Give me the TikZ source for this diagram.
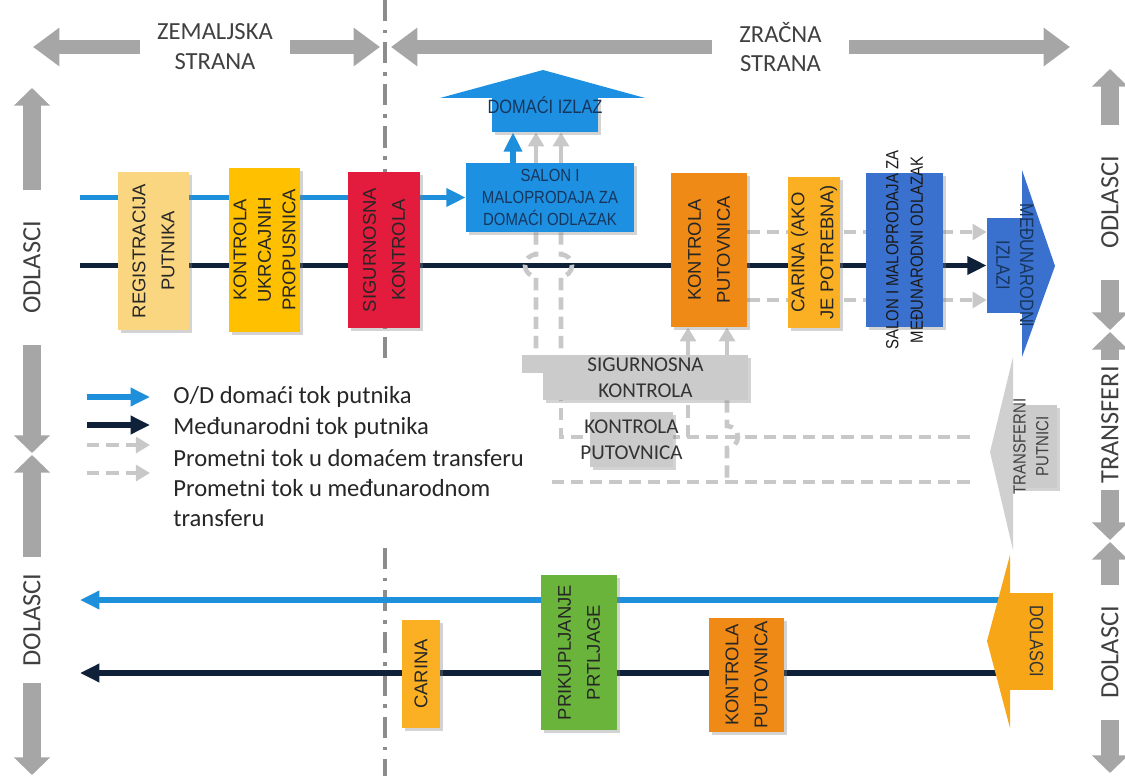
\documentclass[tikz,border=0pt]{standalone}
\usepackage{fontspec}
\setmainfont{Carlito}
\newfontfamily\arialf{Liberation Sans}
\newfontfamily\narrowf[FakeStretch=0.85]{Liberation Sans}
\usetikzlibrary{arrows.meta,shadows,calc}

\definecolor{domblue}{HTML}{1E8FDA}
\definecolor{intnavy}{HTML}{0F2139}
\definecolor{bigarr}{HTML}{A6A6A6}
\definecolor{trgray}{HTML}{C8C8C8}
\definecolor{regcol}{HTML}{F9D67F}
\definecolor{ukrcol}{HTML}{FFC000}
\definecolor{sigcol}{HTML}{E31B3D}
\definecolor{salcol}{HTML}{1E90E1}
\definecolor{kpcol}{HTML}{F08A16}
\definecolor{carcol}{HTML}{FBB024}
\definecolor{intcol}{HTML}{3A71CF}
\definecolor{prikcol}{HTML}{6BB43B}
\definecolor{dolcol}{HTML}{F7A618}
\definecolor{boxgray}{HTML}{CBCBCB}
\definecolor{txtnavy}{HTML}{17365D}

\pgfdeclarelayer{bg}
\pgfsetlayers{bg,main}

\tikzset{
  procbox/.style={inner sep=0pt, drop shadow={shadow xshift=1.5pt, shadow yshift=-1.5pt, opacity=0.35}},
  flatbox/.style={inner sep=0pt},
  vtxt/.style={label={[rotate=90, align=center, text=black!85, font=\arialf\fontsize{10.5}{16.5}\selectfont]center:{#1}}},
  headtxt/.style={align=center, inner sep=0pt, text=black!75, font=\fontsize{14}{17}\selectfont},
  sidetxt/.style={rotate=90, inner sep=0pt, text=black!75, font=\fontsize{15}{18}\selectfont},
  legtxt/.style={anchor=west, inner sep=0pt, align=left, text=black!85, font=\fontsize{14}{17}\selectfont},
  bigarrow/.style={bigarr, line width=8.5pt, -{Triangle[width=21pt,length=15pt]}},
  sidearrow/.style={bigarr, line width=10pt, -{Triangle[width=20pt,length=10pt]}},
  divider/.style={black!45, line width=2.6pt, dash pattern=on 12pt off 5pt on 2pt off 5pt},
  dom/.style={domblue, line width=3pt, -{Triangle[width=10pt,length=11pt]}},
  intl/.style={intnavy, line width=3pt, -{Triangle[width=10pt,length=11pt]}},
  trans/.style={trgray, line width=2.6pt, dash pattern=on 7pt off 4pt},
  trarr/.style={trans, -{Triangle[width=9pt,length=8pt]}}
}

\begin{document}
\begin{tikzpicture}[x=0.02cm, y=-0.02cm]
\useasboundingbox (0,0) rectangle (1125,776);

% zemaljska / zracna strana
\node[headtxt, minimum width=3cm] (zem) at (215,47) {ZEMALJSKA\\STRANA};
\node[headtxt, minimum width=2.74cm] (zra) at (780.5,47) {ZRAČNA\\STRANA};
\coordinate (zemL) at (33,47);
\coordinate (zemR) at (380,47);
\coordinate (zraL) at (391,47);
\coordinate (zraR) at (1070,47);

% odlasci / transferi / dolasci
\node[sidetxt, minimum width=3.1cm] (odlL) at (32,267.5) {ODLASCI};
\node[sidetxt, minimum width=2.52cm] (dolL) at (32,620) {DOLASCI};
\node[sidetxt, minimum width=3.1cm] (odlR) at (1110,202.5) {ODLASCI};
\node[sidetxt, minimum width=2.6cm] (trR) at (1110,425) {TRANSFERI};
\node[sidetxt, minimum width=2.7cm] (dolR) at (1110,652.5) {DOLASCI};
\foreach \n/\x/\y in {tL1/32/88, tL2/32/453, tL3/32/455, tL4/32/775,
  tR1/1110/69, tR2/1110/330, tR3/1110/332, tR4/1110/540, tR5/1110/542, tR6/1110/773}
  \coordinate (\n) at (\x,\y);

% odlasci - procesi
\node[procbox, fill=regcol, minimum width=1.42cm, minimum height=3.16cm,
  vtxt={REGISTRACIJA\\PUTNIKA}] (reg) at (153.5,251) {};
\node[procbox, fill=ukrcol, minimum width=1.42cm, minimum height=3.28cm,
  label={[rotate=90, align=center, text=black!85, font=\arialf\fontsize{10.5}{14}\selectfont]center:{KONTROLA\\UKRCAJNIH\\PROPUSNICA}}] (ukr) at (264.5,250) {};
\node[procbox, fill=sigcol, minimum width=1.44cm, minimum height=3.12cm,
  vtxt={SIGURNOSNA\\KONTROLA}] (sig) at (384,250) {};
\node[procbox, fill=salcol, minimum width=3.36cm, minimum height=1.38cm, align=center,
  text=txtnavy, font=\narrowf\fontsize{10}{12.3}\selectfont] (saldom) at (550,197.5) {SALON I\\MALOPRODAJA ZA\\DOMAĆI ODLAZAK};
\fill[salcol] (440,98) -- (543,70) -- (645,98) -- cycle;
\node[procbox, fill=salcol, minimum width=2.12cm, minimum height=0.70cm,
  label={[yshift=0.18cm, text=txtnavy, font=\narrowf\fontsize{11}{12}\selectfont]center:DOMAĆI IZLAZ}] (dizl) at (545,114.5) {};
\node[procbox, fill=kpcol, minimum width=1.52cm, minimum height=3.08cm,
  vtxt={KONTROLA\\PUTOVNICA}] (kp1) at (709,250) {};
\node[procbox, fill=carcol, minimum width=1.04cm, minimum height=3.02cm,
  vtxt={CARINA (AKO\\JE POTREBNA)}] (car1) at (814,252.5) {};
\node[procbox, fill=intcol, minimum width=1.54cm, minimum height=3.08cm,
  label={[rotate=90, align=center, text=black!90, font=\narrowf\fontsize{10}{14}\selectfont]center:{SALON I MALOPRODAJA ZA\\MEĐUNARODNI ODLAZAK}}] (salint) at (904.5,250) {};
\fill[intcol] (1022,170) -- (1055,266) -- (1022,357) -- cycle;
\node[flatbox, fill=intcol, minimum width=0.72cm, minimum height=1.90cm,
  label={[xshift=0.2cm, rotate=-90, align=center, text=txtnavy, font=\narrowf\fontsize{11}{13.5}\selectfont]center:{MEĐUNARODNI\\IZLAZI}}] (mizl) at (1005,265.5) {};

% transferi
\fill[boxgray] (522,355) rectangle (543,373);
\node[procbox, fill=boxgray, minimum width=4.10cm, minimum height=0.90cm, align=center,
  text=black!80, font=\fontsize{12}{15}\selectfont] (sig2) at (645.5,377.5) {SIGURNOSNA\\KONTROLA};
\node[procbox, fill=boxgray, minimum width=1.66cm, minimum height=1.10cm,
  label={[align=center, text=black!80, font=\fontsize{12}{15}\selectfont]center:{KONTROLA\\PUTOVNICA}}] (kp2) at (631.5,439.5) {};
\fill[boxgray!90] (1013,357) -- (990,452) -- (1013,550) -- cycle;
\node[procbox, fill=boxgray, minimum width=0.88cm, minimum height=1.66cm,
  label={[xshift=-0.08cm, rotate=90, align=center, text=black!75, font=\narrowf\fontsize{10}{13}\selectfont]center:{TRANSFERNI\\PUTNICI}}] (tp) at (1035,446.5) {};

% dolasci - procesi
\fill[dolcol] (1010,555) -- (987,641) -- (1010,728) -- cycle;
\node[flatbox, fill=dolcol, minimum width=0.86cm, minimum height=1.94cm,
  label={[xshift=0.1cm, rotate=-90, text=black!80, font=\narrowf\fontsize{11}{13}\selectfont]center:DOLASCI}] (dol) at (1031.5,641.5) {};
\node[procbox, fill=carcol, minimum width=0.76cm, minimum height=2.16cm,
  vtxt={CARINA}] (car2) at (421,674) {};
\node[procbox, fill=prikcol, minimum width=1.52cm, minimum height=3.10cm,
  vtxt={PRIKUPLJANJE\\PRTLJAGE}] (prik) at (579,652.5) {};
\node[procbox, fill=kpcol, minimum width=1.50cm, minimum height=2.28cm,
  vtxt={KONTROLA\\PUTOVNICA}] (kp3) at (746.5,675) {};

% legenda
\node[legtxt] (leg1) at (173,397) {O/D domaći tok putnika};
\node[legtxt] (leg2) at (173,428) {Međunarodni tok putnika};
\node[legtxt] (leg3) at (173,458) {Prometni tok u domaćem transferu};
\node[legtxt] (leg4) at (173,503) {Prometni tok u međunarodnom\\transferu};

\begin{pgfonlayer}{bg}
% granica zemaljska / zracna strana
\draw[divider] (385,0) -- (385,365);
\draw[divider] (385,548) -- (385,776);

\draw[bigarrow] (zem.west) -- (zemL);
\draw[bigarrow] (zem.east) -- (zemR);
\draw[bigarrow] (zra.west) -- (zraL);
\draw[bigarrow] (zra.east) -- (zraR);

\draw[sidearrow] (odlL.east) -- (tL1);
\draw[sidearrow] (odlL.west) -- (tL2);
\draw[sidearrow] (dolL.east) -- (tL3);
\draw[sidearrow] (dolL.west) -- (tL4);
\draw[sidearrow] (odlR.east) -- (tR1);
\draw[sidearrow] (odlR.west) -- (tR2);
\draw[sidearrow] (trR.east) -- (tR3);
\draw[sidearrow] (trR.west) -- (tR4);
\draw[sidearrow] (dolR.east) -- (tR5);
\draw[sidearrow] (dolR.west) -- (tR6);

% tokovi odlazaka
\coordinate (depD) at (80,197.5);
\coordinate (depI) at (80,265.5);
\draw[dom] (depD) -- (saldom.west);
\draw[intl] (depI) -- (mizl.west);
\coordinate (cA) at (513,0);
\draw[dom] (saldom.north -| cA) -- (dizl.south -| cA);

\foreach \n/\x in {ga/536, gb/561, gc/688, gd/727, ge/545}
  \coordinate (\n) at (\x,0);
\coordinate (gy1) at (0,232);
\coordinate (gy2) at (0,300);
\coordinate (tA) at (0,437);
\coordinate (tB) at (0,482);

\draw[trarr, solid] (saldom.north -| ga) -- (dizl.south -| ga);
\draw[trarr, solid] (saldom.north -| gb) -- (dizl.south -| gb);
\draw[trans] (saldom.south -| ga) -- ($(depI -| ga)+(0,-11)$)
  arc[start angle=90, end angle=270, radius=0.22cm] -- (sig2.north -| ga);
\draw[trans] (saldom.south -| gb) -- ($(depI -| gb)+(0,-11)$)
  arc[start angle=90, end angle=-90, radius=0.22cm] -- (sig2.north -| gb);
\draw[trarr, solid] (sig2.north -| gc) -- (kp1.south -| gc);
\draw[trarr, solid] (sig2.north -| gd) -- (kp1.south -| gd);
\draw[trarr] (kp1.east |- gy1) -- (mizl.west |- gy1);
\draw[trarr] (kp1.east |- gy2) -- (mizl.west |- gy2);

% transferni tokovi
\draw[trans, shorten <=0.86cm] (tp.west |- tA) -- (gb |- tA) -- (sig2.south -| gb);
\draw[trans] (gc |- tA) -- (sig2.south -| gc);
\draw[trans] (sig2.south -| gd) -- ($(gd |- tA)+(0,-11)$)
  arc[start angle=90, end angle=-90, radius=0.22cm] -- (gd |- tB);
\draw[trans, shorten <=0.86cm] (tp.west |- tB) -- (ge |- tB);

% tokovi dolazaka
\coordinate (arrD) at (80,600);
\coordinate (arrI) at (80,673);
\draw[dom] (dol.west |- arrD) -- (arrD);
\draw[intl] (dol.west |- arrI) -- (arrI);

% legenda
\draw[dom] ([xshift=-1.72cm]leg1.west) -- ([xshift=-0.46cm]leg1.west);
\draw[intl] ([xshift=-1.72cm, yshift=0.06cm]leg2.west) -- ([xshift=-0.46cm, yshift=0.06cm]leg2.west);
\draw[trarr] ([xshift=-1.72cm, yshift=0.26cm]leg3.west) -- ([xshift=-0.46cm, yshift=0.26cm]leg3.west);
\draw[trarr] ([xshift=-1.72cm, yshift=0.6cm]leg4.west) -- ([xshift=-0.46cm, yshift=0.6cm]leg4.west);
\end{pgfonlayer}
\end{tikzpicture}
\end{document}
